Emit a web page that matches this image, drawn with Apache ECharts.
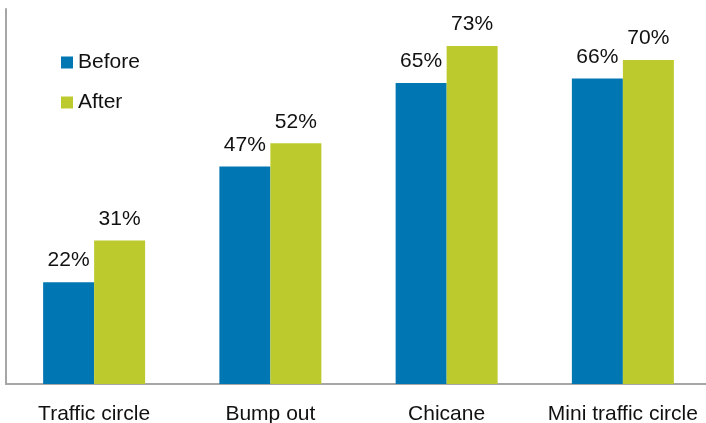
<!DOCTYPE html>
<html>
<head>
<meta charset="utf-8">
<script src="https://cdn.jsdelivr.net/npm/echarts@6/dist/echarts.min.js"></script>
<style>
  html, body { margin: 0; padding: 0; background: #fff; }
  #chart { width: 706px; height: 423px; }
</style>
</head>
<body>
<div id="chart"></div>
<script>
var categories = ['Traffic circle', 'Bump out', 'Chicane', 'Mini traffic circle'];
var before = [22, 47, 65, 66];
var after = [31, 52, 73, 70];

var font = "'Liberation Sans', Arial, sans-serif";
var myChart = echarts.init(document.getElementById('chart'));

var option = {
    animation: false,
    textStyle: { fontFamily: font },
    grid: { left: 6, width: 705, top: 9, bottom: 39, outerBoundsMode: 'none', containLabel: false },
    legend: {
        orient: 'vertical',
        left: 61,
        top: 52,
        padding: 0,
        itemWidth: 12,
        itemHeight: 12,
        itemGap: 19,
        icon: 'rect',
        textStyle: { fontSize: 21, color: '#111', fontFamily: font },
        data: ['Before', 'After']
    },
    xAxis: {
        type: 'category',
        data: categories,
        axisLine: { lineStyle: { color: '#a6a6a6', width: 2 } },
        axisTick: { show: false },
        axisLabel: { fontSize: 21, color: '#111', margin: 20, interval: 0, hideOverlap: false, fontFamily: font }
    },
    yAxis: {
        type: 'value',
        min: 0,
        max: 81,
        axisLine: { show: true, lineStyle: { color: '#a6a6a6', width: 2 } },
        axisTick: { show: false },
        axisLabel: { show: false },
        splitLine: { show: false }
    },
    series: [
        {
            name: 'Before',
            type: 'bar',
            data: before,
            barWidth: 51,
            barGap: '0%',
            itemStyle: { color: '#0077b3' },
            label: { show: true, position: 'top', distance: 11, fontSize: 21, color: '#111', formatter: '{c}%' }
        },
        {
            name: 'After',
            type: 'bar',
            data: after,
            barWidth: 51,
            barGap: '0%',
            itemStyle: { color: '#bdca2e' },
            label: { show: true, position: 'top', distance: 11, fontSize: 21, color: '#111', formatter: '{c}%' }
        }
    ]
};

myChart.setOption(option);
</script>
</body>
</html>
